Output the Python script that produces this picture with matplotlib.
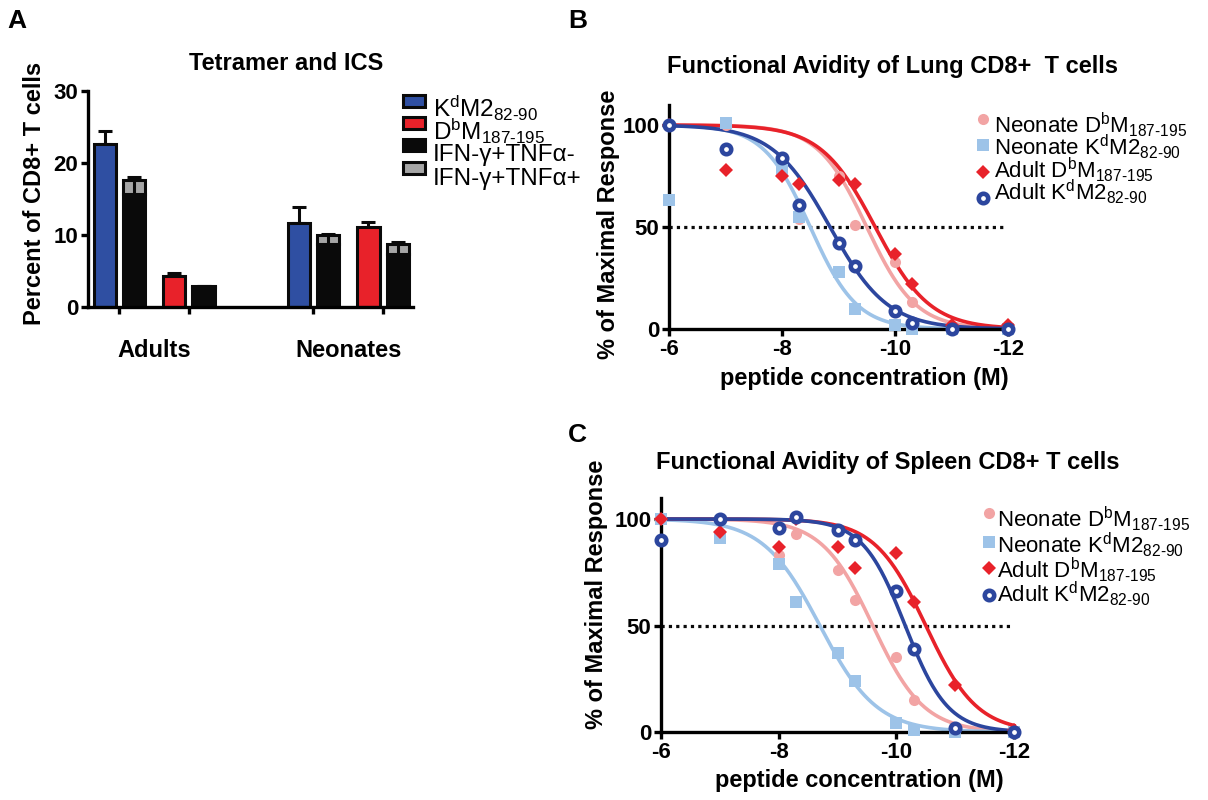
import numpy as np
import matplotlib
matplotlib.use('Agg')
import matplotlib.pyplot as plt
from matplotlib.patches import Rectangle

plt.rcParams['font.family'] = ['Liberation Sans', 'DejaVu Sans']
plt.rcParams['mathtext.fontset'] = 'custom'
plt.rcParams['mathtext.rm'] = 'Liberation Sans'
plt.rcParams['mathtext.it'] = 'Liberation Sans:italic'
plt.rcParams['mathtext.bf'] = 'Liberation Sans:bold'
plt.rcParams['axes.unicode_minus'] = False

# ---------------- Panel A data ----------------
groups = ['Adults', 'Neonates']
tet_kd = [22.6, 11.7]
tet_kd_err = [1.9, 2.2]
ics_kd_neg = [15.7, 8.7]
ics_kd_pos = [1.9, 1.3]
ics_kd_err = [0.5, 0.2]
tet_db = [4.3, 11.1]
tet_db_err = [0.4, 0.7]
ics_db_neg = [2.8, 7.3]
ics_db_pos = [0.1, 1.5]
ics_db_err = [0.05, 0.2]

# ---------------- Panels B / C data ----------------
log_conc = [-6, -7, -8, -8.3, -9, -9.3, -10, -10.3, -11, -12]

lung_neo_db = [100, 100, 76, 54, 75, 51, 33, 13, 1, 0]
lung_neo_kd = [63, 101, 78, 55, 28, 10, 2, 0, 0, 0]
lung_adult_db = [100, 78, 75, 71, 73, 71, 37, 22, 2, 2]
lung_adult_kd = [100, 88, 84, 61, 42, 31, 9, 3, 0, 0]

spleen_neo_db = [100, 100, 83, 93, 76, 62, 35, 15, 2, 0]
spleen_neo_kd = [100, 91, 79, 61, 37, 24, 4, 1, 0, 0]
spleen_adult_db = [100, 94, 87, 100, 87, 77, 84, 61, 22, 1]
spleen_adult_kd = [90, 100, 96, 101, 95, 90, 66, 39, 2, 0]

# fitted sigmoid parameters (log EC50, Hill slope)
lung_ec50 = [-9.5, -8.5, -9.65, -8.85]
lung_hill = [1.0, 1.05, 0.9, 0.85]
spleen_ec50 = [-9.6, -8.7, -10.5, -10.15]
spleen_hill = [1.0, 0.9, 1.0, 1.2]

series_names = [r'Neonate D$^\mathrm{b}$M$_\mathrm{187\text{-}195}$',
                r'Neonate K$^\mathrm{d}$M2$_\mathrm{82\text{-}90}$',
                r'Adult D$^\mathrm{b}$M$_\mathrm{187\text{-}195}$',
                r'Adult K$^\mathrm{d}$M2$_\mathrm{82\text{-}90}$']

BLUE = '#2f4fa2'
RED = '#e8222a'
BLACK = '#0a0a0a'
GRAY = '#a6a6a6'
PINK = '#f2a4a4'
LBLUE = '#9dc3e8'
DBLUE = '#2c469e'

W, H = 1208, 800
fig = plt.figure(figsize=(W / 100, H / 100), dpi=100)


def px_axes(left, top, right, bottom, **kw):
    return fig.add_axes([left / W, 1 - bottom / H, (right - left) / W, (bottom - top) / H], **kw)


SPW = 2.4

# ================= Panel A =================
axA = px_axes(88, 91, 413, 307)
cat_pos = np.array([0.0, 1.0, 2.79, 3.79])
off = 0.21
bw = 0.32
for gi in range(len(groups)):
    ck = cat_pos[2 * gi]
    cd = cat_pos[2 * gi + 1]
    axA.bar(ck - off, tet_kd[gi], bw, color=BLUE, edgecolor=BLACK, linewidth=2.2, zorder=2)
    axA.bar(cd - off, tet_db[gi], bw, color=RED, edgecolor=BLACK, linewidth=2.2, zorder=2)
    axA.errorbar(ck - off, tet_kd[gi], yerr=[[0], [tet_kd_err[gi]]], color=BLACK,
                 elinewidth=2.2, capsize=5, capthick=2.2, zorder=1)
    axA.errorbar(cd - off, tet_db[gi], yerr=[[0], [tet_db_err[gi]]], color=BLACK,
                 elinewidth=2.2, capsize=5, capthick=2.2, zorder=1)
    for c, neg, pos, err in [(ck, ics_kd_neg[gi], ics_kd_pos[gi], ics_kd_err[gi]),
                             (cd, ics_db_neg[gi], ics_db_pos[gi], ics_db_err[gi])]:
        axA.bar(c + off, neg, bw, color=BLACK, edgecolor=BLACK, linewidth=2.2, zorder=2)
        axA.bar(c + off, pos, bw, bottom=neg, color=GRAY, edgecolor=BLACK, linewidth=2.2, zorder=2)
        axA.errorbar(c + off, neg, yerr=[[0], [pos]], color=BLACK, elinewidth=2.2,
                     capsize=0, zorder=3)
        axA.errorbar(c + off, neg + pos, yerr=[[0], [err]], color=BLACK,
                     elinewidth=2.2, capsize=5, capthick=2.2, zorder=1)

axA.set_ylim(0, 30)
axA.set_xlim(-0.45, 4.22)
axA.set_yticks([0, 10, 20, 30])
axA.set_xticks([(cat_pos[0] + cat_pos[1]) / 2, (cat_pos[2] + cat_pos[3]) / 2])
axA.set_xticklabels(groups)
axA.set_xticks(cat_pos, minor=True)
axA.tick_params(axis='x', which='major', length=0, pad=23, labelsize=17)
axA.tick_params(axis='x', which='minor', length=5, width=SPW, direction='out')
axA.tick_params(axis='y', length=5, width=SPW, pad=2, labelsize=16)
for lab in axA.get_xticklabels() + axA.get_yticklabels():
    lab.set_fontweight('bold')
for s in ['top', 'right']:
    axA.spines[s].set_visible(False)
for s in ['left', 'bottom']:
    axA.spines[s].set_linewidth(SPW)

# ================= Panels B and C =================
xs = np.linspace(-6, -12, 400)
colors = [PINK, LBLUE, RED, DBLUE]
markers = ['o', 's', 'D', 'o']
msizes = [8, 8, 7.5, 6.8]


def sig(x, ec, h):
    return 100.0 / (1.0 + 10 ** ((ec - x) * h))


def draw_panel(ax, data, ec50, hill):
    ax.patch.set_visible(False)
    for ec, h, col in zip(ec50, hill, colors):
        ax.plot(xs, sig(xs, ec, h), color=col, lw=2.6, zorder=2, clip_on=False)
    ax.hlines(50, -6, -11.93, colors=BLACK, linestyles=(0, (1, 1.3)), lw=2.3, zorder=1)
    for i, (vals, col, mk, ms) in enumerate(zip(data, colors, markers, msizes)):
        if i == 3:
            ax.plot(log_conc, vals, ls='none', marker=mk, ms=ms, mfc='white', mec=col,
                    mew=3.3, zorder=3 + i, clip_on=False)
        else:
            ax.plot(log_conc, vals, ls='none', marker=mk, ms=ms, mfc=col, mec=col,
                    mew=0, zorder=3 + i, clip_on=False)
    ax.set_xlim(-6, -12)
    ax.set_ylim(0, 110)
    ax.set_xticks([-6, -8, -10, -12])
    ax.set_yticks([0, 50, 100])
    ax.tick_params(axis='both', length=5, width=SPW, labelsize=16, pad=2)
    for lab in ax.get_xticklabels() + ax.get_yticklabels():
        lab.set_fontweight('bold')
    for s in ['top', 'right']:
        ax.spines[s].set_visible(False)
    for s in ['left', 'bottom']:
        ax.spines[s].set_linewidth(SPW)


axB = px_axes(669, 104.6, 1008, 329)
draw_panel(axB, [lung_neo_db, lung_neo_kd, lung_adult_db, lung_adult_kd], lung_ec50, lung_hill)
axC = px_axes(661, 497.7, 1014, 732)
draw_panel(axC, [spleen_neo_db, spleen_neo_kd, spleen_adult_db, spleen_adult_kd],
           spleen_ec50, spleen_hill)

# overlay axes in pixel coordinates for free text (drawn on top)
ov = fig.add_axes([0, 0, 1, 1], zorder=10)
ov.set_xlim(0, W)
ov.set_ylim(H, 0)
ov.axis('off')

ov.text(17, 21, 'A', fontsize=19, fontweight='bold', ha='center', va='center')
ov.text(286, 63, 'Tetramer and ICS', fontsize=17, fontweight='bold', ha='center', va='center')
ov.text(35, 193, 'Percent of CD8+ T cells', fontsize=17, fontweight='bold', ha='center',
        va='center', rotation=90)

legA_labels = [r'K$^\mathrm{d}$M2$_\mathrm{82\text{-}90}$',
               r'D$^\mathrm{b}$M$_\mathrm{187\text{-}195}$',
               'IFN-γ+TNFα-', 'IFN-γ+TNFα+']
legA_colors = [BLUE, RED, BLACK, GRAY]
legA_patch_y = [101, 123, 145, 168]
legA_base_y = [117, 140, 161, 185]
for lab, col, py, by in zip(legA_labels, legA_colors, legA_patch_y, legA_base_y):
    ov.add_patch(Rectangle((403, py - 6), 22, 12, facecolor=col, edgecolor=BLACK, linewidth=2.2))
    ov.text(433, by, lab, fontsize=17.5, ha='left', va='baseline')

ov.text(578, 21, 'B', fontsize=19, fontweight='bold', ha='center', va='center')
ov.text(577, 435, 'C', fontsize=19, fontweight='bold', ha='center', va='center')
ov.text(667, 66, 'Functional Avidity of Lung CD8+  T cells', fontsize=17, fontweight='bold',
        ha='left', va='center')
ov.text(656, 463, 'Functional Avidity of Spleen CD8+ T cells', fontsize=17, fontweight='bold',
        ha='left', va='center')
ov.text(608, 224, '% of Maximal Response', fontsize=17, fontweight='bold', ha='center',
        va='center', rotation=90)
ov.text(597, 594, '% of Maximal Response', fontsize=17, fontweight='bold', ha='center',
        va='center', rotation=90)
ov.text(720, 378, 'peptide concentration (M)', fontsize=17, fontweight='bold', ha='left',
        va='center')
ov.text(715, 780, 'peptide concentration (M)', fontsize=17, fontweight='bold', ha='left',
        va='center')

legB_marker_y = [119, 145, 172, 198]
legB_base_y = [133, 155, 178, 200]
legC_marker_y = [513, 542, 568, 595]
legC_base_y = [527, 553, 578, 602]
for mx, tx, mys, bys in [(983, 994, legB_marker_y, legB_base_y),
                         (989, 997, legC_marker_y, legC_base_y)]:
    for i, (lab, col, mk, ms, my, by) in enumerate(zip(series_names, colors, markers, msizes,
                                                        mys, bys)):
        if i == 3:
            ov.plot([mx], [my], marker=mk, ms=ms, mfc='white', mec=col, mew=3.3, ls='none')
        else:
            ov.plot([mx], [my], marker=mk, ms=ms, mfc=col, mec=col, mew=0, ls='none')
        ov.text(tx, by, lab, fontsize=16, ha='left', va='baseline')

fig.savefig('out.png', dpi=100)
